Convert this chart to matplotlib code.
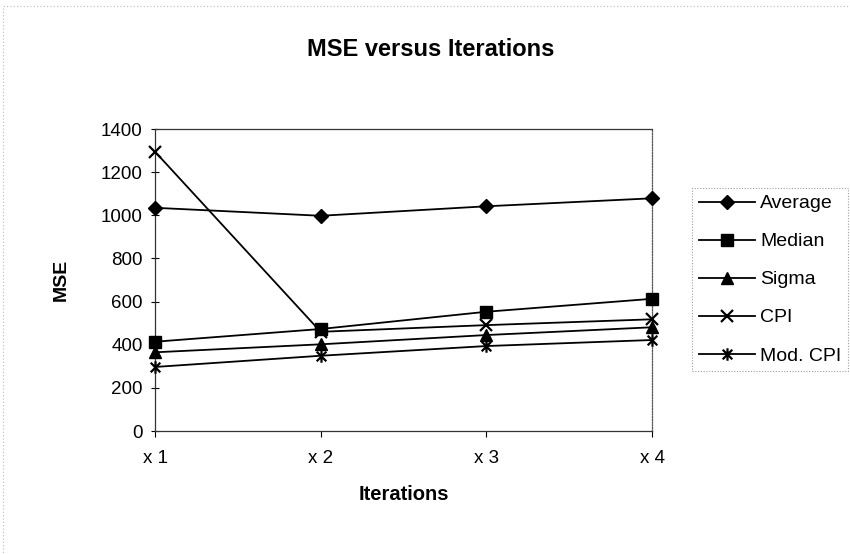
import matplotlib
matplotlib.use("Agg")
import matplotlib.pyplot as plt
from matplotlib.path import Path
from matplotlib.patches import Rectangle

plt.rcParams['font.family'] = ['Liberation Sans', 'DejaVu Sans']

categories = ["x 1", "x 2", "x 3", "x 4"]
average = [1035, 998, 1042, 1079]
median = [414, 473, 553, 613]
sigma = [365, 402, 445, 481]
cpi = [1295, 460, 491, 518]
mod_cpi = [297, 349, 394, 422]
yticks = [0, 200, 400, 600, 800, 1000, 1200, 1400]

# Excel-style star: an x plus a vertical bar
star = Path([(-1, -1), (1, 1), (-1, 1), (1, -1), (0, -1.3), (0, 1.3)],
            [Path.MOVETO, Path.LINETO, Path.MOVETO, Path.LINETO, Path.MOVETO, Path.LINETO])

series = [
    ("Average", average, "D", 7.5, 1.0),
    ("Median", median, "s", 8.5, 1.0),
    ("Sigma", sigma, "^", 8.5, 1.0),
    ("CPI", cpi, "x", 8.5, 1.6),
    ("Mod. CPI", mod_cpi, star, 9, 1.6),
]

fig = plt.figure(figsize=(8.5, 5.54), dpi=100)
fig.patches.append(Rectangle((0.004, -0.01), 1.2, 1.0, transform=fig.transFigure,
                             fill=False, edgecolor="#bbbbbb", lw=0.8,
                             linestyle=(0, (1, 2))))
ax = fig.add_axes([0.1824, 0.222, 0.5847, 0.545])
xs = list(range(len(categories)))
handles = []
for name, vals, m, ms, mew in series:
    ln, = ax.plot(xs, vals, color="black", lw=1.3, marker=m, markersize=ms,
                  markeredgewidth=mew, markerfacecolor="black",
                  markeredgecolor="black", label=name, clip_on=False, zorder=3)
    handles.append(ln)

ax.set_xlim(0, 3)
ax.set_ylim(0, 1400)
ax.set_yticks(yticks)
ax.set_xticks(xs)
ax.set_xticklabels(categories)
ax.tick_params(axis='y', labelsize=13.5, length=6, direction='inout', width=0.8, pad=6)
ax.tick_params(axis='x', labelsize=13.5, length=4, direction='out', width=0.8, pad=10)
ax.spines["right"].set_linestyle((0, (1, 1.2)))
ax.spines["right"].set_color("#555555")
ax.spines["right"].set_linewidth(0.9)
for side in ["left", "bottom", "top"]:
    ax.spines[side].set_color("#333333")
    ax.spines[side].set_linewidth(0.9)

fig.text(0.507, 1 - 49 / 554, "MSE versus Iterations", fontsize=17, fontweight="bold",
         ha="center", va="center")
fig.text(61 / 850, 1 - 280 / 554, "MSE", fontsize=14, fontweight="bold",
         rotation=90, ha="center", va="center")
fig.text(0.5 * (0.1824 * 2 + 0.5847), 1 - 494 / 554, "Iterations", fontsize=14.5,
         fontweight="bold", ha="center", va="center")

leg = fig.legend(handles=handles, loc="upper left",
                 bbox_to_anchor=(692 / 850, 1 - 188 / 554),
                 fontsize=14, frameon=True, fancybox=False, handlelength=2.9,
                 handletextpad=0.25, labelspacing=1.05, borderpad=0.35,
                 borderaxespad=0.0)
leg.get_frame().set_edgecolor("#888888")
leg.get_frame().set_linestyle((0, (1, 1.5)))
leg.get_frame().set_linewidth(0.8)

fig.savefig("out.png", dpi=100)
